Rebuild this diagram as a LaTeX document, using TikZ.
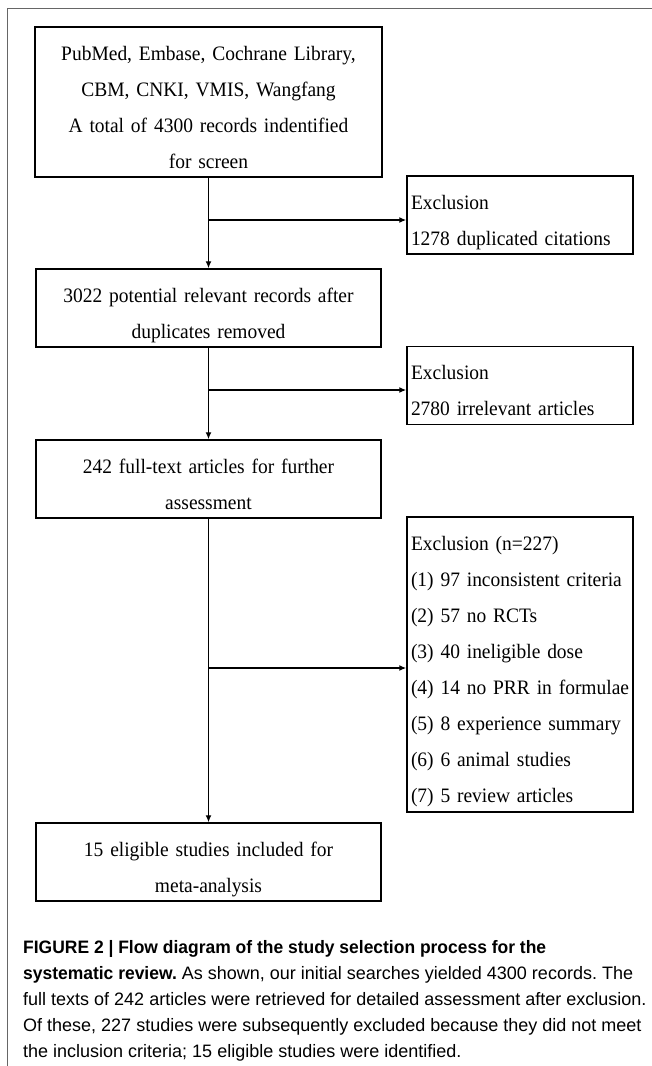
\documentclass[tikz,border=0pt]{standalone}
\usepackage{fontspec}
\setmainfont[FakeStretch=0.95, WordSpace=0.95]{Liberation Serif}
\newfontfamily\capfont[BoldFeatures={FakeStretch=0.97}]{Liberation Sans}
\usetikzlibrary{arrows.meta}
\frenchspacing

\tikzset{
    box/.style={draw, line width=1.5pt, inner ysep=0pt,
        font=\fontsize{20.5}{36}\selectfont,
        execute at begin node={\rule{0pt}{30pt}},
        execute at end node={\rule[-6pt]{0pt}{6pt}}},
    mainbox/.style={box, inner xsep=5pt, text width=335pt, align=center, minimum height=78pt},
    exbox/.style={box, inner xsep=4pt, text width=218pt, align=left, minimum height=78pt},
    flow/.style={->, >={Latex[length=7pt, width=6pt]}, line width=1.3pt}
}

\begin{document}
\begin{tikzpicture}[x=1pt, y=1pt]
    \useasboundingbox (0, 0) rectangle (652, -1066);
    \draw[black!60, line width=1pt] (652, -8.5) -- (7, -8.5) -- (7, -1066);

    \node[mainbox, text width=337pt, minimum height=150pt] (src) at (208.5, -102) {PubMed, Embase, Cochrane Library,\\ CBM, CNKI, VMIS, Wangfang\\ A total of 4300 records indentified\\ for screen};
    \node[mainbox] (dedup) at (208.5, -308) {3022 potential relevant records after\\ duplicates removed};
    \node[mainbox] (full) at (208.5, -479) {242 full-text articles for further\\ assessment};
    \node[mainbox] (incl) at (208.5, -862) {15 eligible studies included for\\ meta-analysis};

    \node[exbox] (excl1) at (520, -215) {Exclusion\\ 1278 duplicated citations};
    \node[exbox] (excl2) at (520, -385.5) {Exclusion\\ 2780 irrelevant articles};
    \node[exbox, minimum height=295pt] (excl3) at (520, -664.5) {Exclusion (n=227)\\ (1) 97 inconsistent criteria\\ (2) 57 no RCTs\\ (3) 40 ineligible dose\\ \mbox{(4) 14 no PRR in formulae}\\ (5) 8 experience summary\\ (6) 6 animal studies\\ (7) 5 review articles};

    \draw[flow] (src.south) -- (dedup.north);
    \draw[flow] (dedup.south) -- (full.north);
    \draw[flow] (full.south) -- (incl.north);

    \coordinate (j1) at ([yshift=-5pt]excl1.west);
    \coordinate (j2) at ([yshift=-4.5pt]excl2.west);
    \coordinate (j3) at ([yshift=-3.5pt]excl3.west);
    \draw[flow] (src.south |- j1) -- (j1);
    \draw[flow] (dedup.south |- j2) -- (j2);
    \draw[flow] (full.south |- j3) -- (j3);

    \node[anchor=north west, inner sep=0pt, align=left, font=\capfont\fontsize{18}{26}\selectfont] (cap) at (23, -936.5) {\rule{0pt}{17pt}\textbf{FIGURE 2 | Flow diagram of the study selection process for the}\\ \textbf{systematic review.} As shown, our initial searches yielded 4300 records. The\\ full texts of 242 articles were retrieved for detailed assessment after exclusion.\\ Of these, 227 studies were subsequently excluded because they did not meet\\ the inclusion criteria; 15 eligible studies were identified.};
\end{tikzpicture}
\end{document}
